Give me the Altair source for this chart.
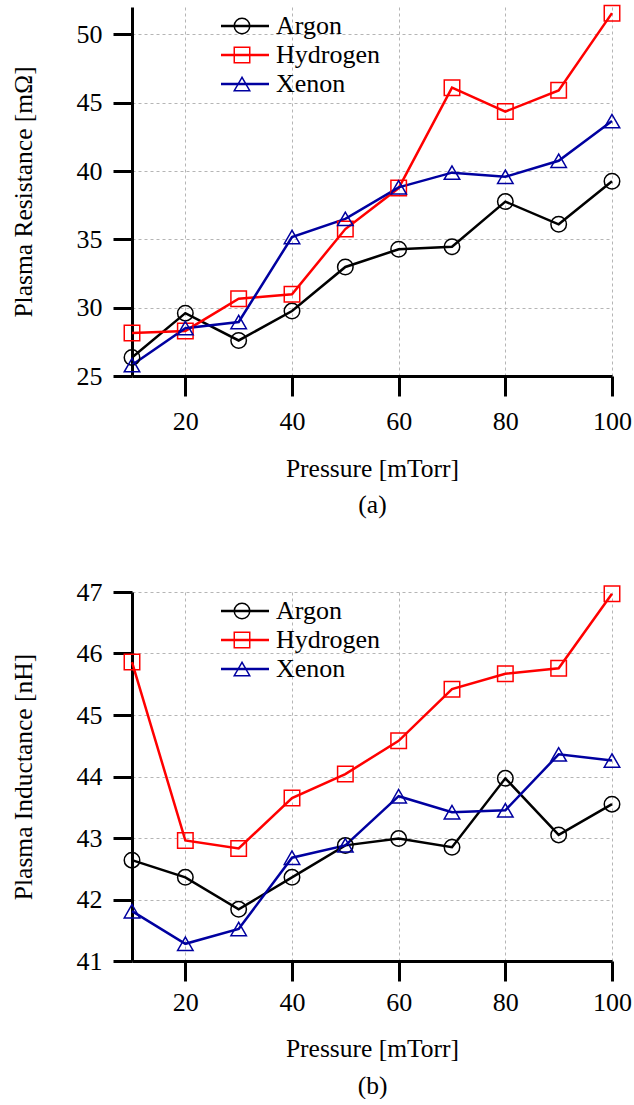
import altair as alt
import pandas as pd

FONT = "Liberation Serif"

pressure = [10, 20, 30, 40, 50, 60, 70, 80, 90, 100]
gases = ["Argon", "Hydrogen", "Xenon"]
gas_colors = ["#000000", "#ff0000", "#0000a0"]
gas_shapes = ["circle", "square", "triangle-up"]

# Panel (a): plasma resistance [mOhm]
res_argon = [26.35, 29.6, 27.6, 29.75, 32.98, 34.27, 34.46, 37.76, 36.1, 39.25]
res_hydrogen = [28.15, 28.3, 30.65, 30.98, 35.75, 38.75, 46.1, 44.35, 45.9, 51.55]
res_xenon = [25.8, 28.5, 28.95, 35.17, 36.5, 38.8, 39.88, 39.58, 40.75, 43.65]
res_ticks = [25, 30, 35, 40, 45, 50]
res_domain = [25, 52]

# Panel (b): plasma inductance [nH]
ind_argon = [42.64, 42.36, 41.84, 42.36, 42.88, 42.99, 42.85, 43.97, 43.05, 43.55]
ind_hydrogen = [45.86, 42.96, 42.83, 43.65, 44.04, 44.58, 45.42, 45.67, 45.76, 46.97]
ind_xenon = [41.81, 41.28, 41.52, 42.68, 42.88, 43.68, 43.42, 43.45, 44.36, 44.26]
ind_ticks = [41, 42, 43, 44, 45, 46, 47]
ind_domain = [41, 47]

x_ticks = [20, 40, 60, 80, 100]


def make_df(series):
    rows = []
    for g, vals in zip(gases, series):
        for p, v in zip(pressure, vals):
            rows.append({"Pressure": p, "Gas": g, "GasLine": g, "Value": v})
    return pd.DataFrame(rows)


AX = dict(
    labelFont=FONT, labelFontSize=26, labelColor="black", labelFlush=False,
    titleFont=FONT, titleFontSize=25.5, titleColor="black", titleFontWeight="normal",
    domainColor="black", domainWidth=3, tickColor="black", tickWidth=3,
    gridColor="#b5b5b5", gridDash=[3, 3], gridWidth=1,
)


def panel(series, ytitle, ydomain, yticks, caption, h, lab_pad, title_y, line_h):
    df = make_df(series)
    x = alt.X(
        "Pressure:Q",
        scale=alt.Scale(domain=[10, 100], nice=False, zero=False),
        axis=alt.Axis(
            values=x_ticks, tickSize=20, labelPadding=lab_pad,
            title=["Pressure [mTorr]", caption], titleLineHeight=line_h,
            titleBaseline="alphabetic", titleY=title_y, titleX=240, **AX,
        ),
    )
    y = alt.Y(
        "Value:Q",
        scale=alt.Scale(domain=ydomain, nice=False, zero=False),
        axis=alt.Axis(
            values=yticks, tickSize=19, labelPadding=11, title=ytitle,
            titleAngle=270, titleBaseline="alphabetic", titleAlign="center",
            titleX=-101, titleY=h / 2, **AX,
        ),
    )
    lines = alt.Chart(df).mark_line(strokeWidth=2.5).encode(
        x=x, y=y,
        stroke=alt.Stroke(
            "GasLine:N",
            scale=alt.Scale(range=gas_colors),
            legend=alt.Legend(
                title=None, orient="none", legendX=100, legendY=6,
                symbolType="M-3,0H3", symbolSize=256, symbolStrokeWidth=2.5,
                labelFont=FONT, labelFontSize=26, labelColor="black",
                labelOffset=18, rowPadding=3, padding=0,
            ),
        ),
    )
    points = alt.Chart(df).mark_point(filled=False, size=240, strokeWidth=1.5, opacity=1).encode(
        x=x, y=y,
        color=alt.Color(
            "Gas:N",
            scale=alt.Scale(domain=gases, range=gas_colors),
            legend=alt.Legend(
                title=None, orient="none", legendX=97, legendY=6,
                symbolSize=240, symbolStrokeWidth=1.5,
                labelFont=FONT, labelFontSize=26, labelExpr="''",
                rowPadding=3, padding=0,
            ),
        ),
        shape=alt.Shape("Gas:N", scale=alt.Scale(domain=gases, range=gas_shapes)),
    )
    return alt.layer(lines, points).properties(width=480, height=h)


top = panel([res_argon, res_hydrogen, res_xenon], "Plasma Resistance [mΩ]",
            res_domain, res_ticks, "(a)", 369, 12, 100, 36)
bottom = panel([ind_argon, ind_hydrogen, ind_xenon], "Plasma Inductance [nH]",
               ind_domain, ind_ticks, "(b)", 369, 8, 95, 37)

chart = alt.vconcat(top, bottom, spacing=216, bounds="flush").resolve_scale(
    color="independent", shape="independent", stroke="independent"
).resolve_legend(
    color="independent", shape="independent", stroke="independent"
).configure_view(stroke=None).properties(
    padding={"left": 11, "top": 2, "right": 0, "bottom": 0},
    background="white",
)

chart.save("out.html", embed_options={"renderer": "svg", "actions": False})
